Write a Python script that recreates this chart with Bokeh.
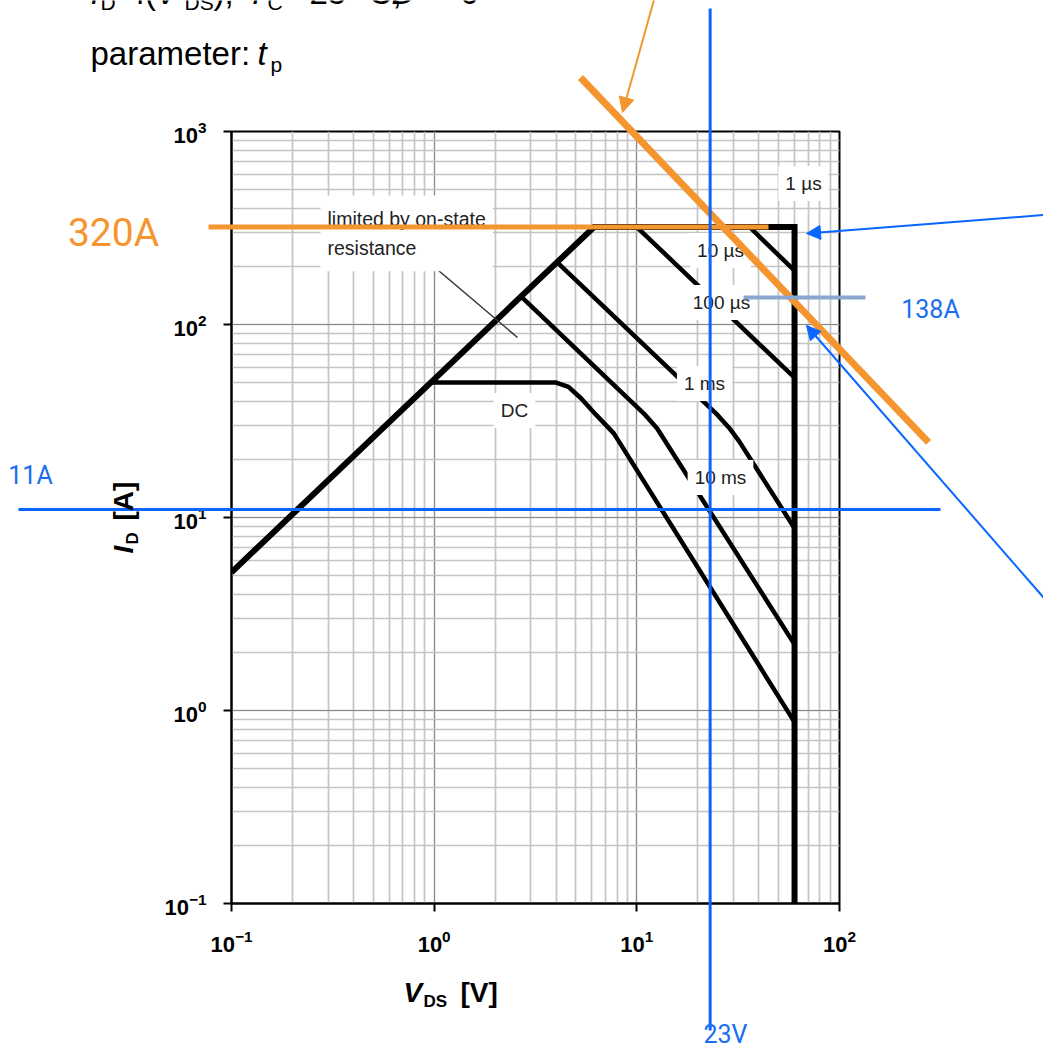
import math
from bokeh.plotting import figure
from bokeh.layouts import column
from bokeh.models import Range1d, Label, Arrow, NormalHead
from bokeh.embed import file_html
from bokeh.resources import INLINE

# ---- safe operating area, I_D = f(V_DS), T_C = 25 °C, D = 0 ----
ENVELOPE_V = [0.1, 6.15, 60.0, 60.0]
ENVELOPE_I = [5.2, 320.0, 320.0, 0.1]

TP_10US_V = [36.0, 60.0]
TP_10US_I = [320.0, 190.0]
TP_100US_V = [10.0, 60.0]
TP_100US_I = [320.0, 53.0]
TP_1MS_V = [4.06, 25.0, 28.5, 32.0, 60.0]
TP_1MS_I = [209.0, 34.0, 29.2, 24.8, 8.8]
TP_10MS_V = [2.72, 11.0, 12.6, 60.0]
TP_10MS_I = [138.0, 34.0, 28.9, 2.2]
DC_V = [0.96, 4.0, 4.6, 5.3, 6.3, 7.7, 60.0]
DC_I = [50.0, 50.0, 47.5, 41.5, 34.0, 27.3, 0.87]

CURVE_NAMES = ["1 µs", "10 µs", "100 µs", "1 ms", "10 ms", "DC"]

# operating point worked out on top of the SOA
V_MARK = 23.0
I_MARK = 11.0
I_LIMIT = 320.0
I_PULSE = 138.0
POWER_LINE_V = [5.27, 275.0]
POWER_LINE_I = [1905.0, 24.5]

# ---- page geometry ----
W, H = 1043, 1048
FL, FR, FT, FB = 231, 839, 131, 903
X_LO, X_HI = 0.1, 100.0
Y_LO, Y_HI = 0.1, 1000.0


def at(px, py):
    """Canvas pixel -> data coordinates on the log/log scales."""
    lx = math.log10(X_LO) + (px - FL) / (FR - FL) * (math.log10(X_HI) - math.log10(X_LO))
    ly = math.log10(Y_HI) - (py - FT) / (FB - FT) * (math.log10(Y_HI) - math.log10(Y_LO))
    return 10 ** lx, 10 ** ly


# ================= datasheet chart =================
p = figure(width=W, height=H, x_axis_type="log", y_axis_type="log",
           x_range=Range1d(X_LO, X_HI), y_range=Range1d(Y_LO, Y_HI),
           output_backend="svg", toolbar_location=None, title=None,
           min_border_left=FL, min_border_right=W - FR,
           min_border_top=FT, min_border_bottom=H - FB)
p.background_fill_color = "white"
p.border_fill_color = "white"
p.outline_line_color = "black"
p.outline_line_width = 2

for ax in (p.xaxis[0], p.yaxis[0]):
    ax.axis_line_color = "black"
    ax.axis_line_width = 2
    ax.major_tick_out = 8
    ax.major_tick_in = 0
    ax.major_tick_line_width = 2
    ax.minor_tick_line_color = None
    ax.major_label_text_font = "Liberation Sans"
    ax.major_label_text_font_style = "bold"
    ax.major_label_text_font_size = "22px"
    ax.major_label_text_color = "black"
p.xaxis.major_label_standoff = 18
p.yaxis.major_label_standoff = 17

for g in (p.xgrid[0], p.ygrid[0]):
    g.grid_line_color = "#8a8a8a"
    g.grid_line_width = 1
    g.minor_grid_line_color = "#c4c4c4"
    g.minor_grid_line_width = 1.7

p.line(TP_10US_V, TP_10US_I, line_color="black", line_width=4.5)
p.line(TP_100US_V, TP_100US_I, line_color="black", line_width=4.5)
p.line(TP_1MS_V, TP_1MS_I, line_color="black", line_width=4.5, line_join="round")
p.line(TP_10MS_V, TP_10MS_I, line_color="black", line_width=4.5, line_join="round")
p.line(DC_V, DC_I, line_color="black", line_width=4.5, line_join="round")
p.line(ENVELOPE_V, ENVELOPE_I, line_color="black", line_width=6, line_join="miter")

# leader for the R_DS(on) note
nx0, ny0 = at(438, 270)
nx1, ny1 = at(517, 337)
p.line([nx0, nx1], [ny0, ny1], line_color="#333333", line_width=1.5)


def text(fig, px, py, s, size, color="black", font="Liberation Sans", style="normal",
         align="left", angle=0.0, bg=None, pad=0, lh=1.2, baseline="middle"):
    x, y = at(px, py)
    lab = Label(x=x, y=y, text=s, text_font=font, text_font_size=f"{size}px",
                text_font_style=style, text_color=color, text_align=align,
                text_baseline=baseline, angle=angle, text_line_height=lh)
    if bg:
        lab.background_fill_color = bg
        lab.padding = pad
    fig.add_layout(lab)
    return lab


def on_base(fig, px, base, s, size, **kw):
    """Text whose alphabetic baseline sits on canvas row `base`."""
    return text(fig, px, base - 0.36 * size, s, size, **kw)


label_px = [(803, 183), (720, 250), (721, 302), (704, 383), (720, 477), (514, 410)]
for name, (lx, ly) in zip(CURVE_NAMES, label_px):
    text(p, lx, ly, name, 19, color="#222222", align="center",
         bg="white", pad=(7, 7))

text(p, 320, 195, "limited by on-state\nresistance", 19.5, color="#222222",
     baseline="top", bg="white", pad=(7, 12), lh=1.35)

# ================= transparent overlay covering the whole page =================
ov_x0, ov_y1 = at(0, 0)
ov_x1, ov_y0 = at(W, H)
ov = figure(width=W, height=H, x_axis_type="log", y_axis_type="log",
            x_axis_location=None, y_axis_location=None, title=None,
            x_range=Range1d(ov_x0, ov_x1), y_range=Range1d(ov_y0, ov_y1),
            min_border=0, min_border_left=0, min_border_right=0,
            min_border_top=0, min_border_bottom=0,
            output_backend="svg", toolbar_location=None)
ov.grid.visible = False
ov.outline_line_color = None
ov.background_fill_alpha = 0
ov.border_fill_alpha = 0
ov.margin = (-H, 0, 0, 0)
# keep each frame where it is: no edge alignment between the two canvases
for fig in (p, ov):
    if "frame_align" in fig.properties():
        fig.frame_align = False

# header lines
on_base(ov, 90, 65, "parameter: ", 33)
on_base(ov, 257, 65, "t", 33, style="italic")
on_base(ov, 270, 72, "p", 21)

on_base(ov, 90, 4, "I", 33, style="italic")
on_base(ov, 100, 10, "D", 21)
on_base(ov, 116, 4, "=f(", 33)
on_base(ov, 155, 4, "V", 33, style="italic")
on_base(ov, 184, 10, "DS", 21)
on_base(ov, 213, 4, ");", 33)
on_base(ov, 246, 4, "T", 33, style="italic")
on_base(ov, 267, 10, "C", 21)
on_base(ov, 289, 4, "=", 33)
on_base(ov, 309, 4, "25 °C;", 33)
on_base(ov, 391, 4, "D", 33, style="italic")
on_base(ov, 425, 4, "=", 33)
on_base(ov, 460, 4, "0", 33)

# axis names
on_base(ov, 403, 1002, "V", 28, style="bold italic")
on_base(ov, 423, 1007, "DS", 17, style="bold")
on_base(ov, 460, 1002, "[V]", 28, style="bold")

text(ov, 123, 553, "I", 28, style="bold italic", angle=math.pi / 2)
text(ov, 132, 544, "D", 17, style="bold", angle=math.pi / 2)
text(ov, 123, 520, "[A]", 28, style="bold", angle=math.pi / 2)

BLUE = "#0a66ff"
BLUE_TXT = "#1a6ef0"
ORANGE = "#f59530"
STEEL = "#8aa6d0"
NOTE_FONT = "Roboto"

# orange: current limit and constant-power line
ov.line([at(208, 0)[0], at(768, 0)[0]], [I_LIMIT, I_LIMIT], line_color=ORANGE, line_width=5)
ov.line(POWER_LINE_V, POWER_LINE_I, line_color=ORANGE, line_width=7)

# blue: operating voltage and current
ov.line([V_MARK, V_MARK], [at(0, 1030)[1], at(0, 8)[1]], line_color=BLUE, line_width=3)
ov.line([at(18, 0)[0], at(940, 0)[0]], [I_MARK, I_MARK], line_color=BLUE, line_width=3)

# pulse current marker
ov.line([at(743, 0)[0], at(865, 0)[0]], [I_PULSE, I_PULSE], line_color=STEEL, line_width=4)


def arrow(x0, y0, x1, y1, color, size):
    ov.add_layout(Arrow(x_start=x0, y_start=y0, x_end=x1, y_end=y1,
                        line_color=color, line_width=2, start=None,
                        end=NormalHead(size=size, fill_color=color,
                                       line_color=color, line_width=1)))


arrow(*at(655, -6), *at(622, 112), ORANGE, 15)
arrow(*at(1050, 214), *at(806, 233), BLUE, 14)
arrow(*at(1050, 605), *at(806, 325), BLUE, 14)

text(ov, 113, 232, f"{I_LIMIT:.0f}A", 39, color=ORANGE, font=NOTE_FONT, align="center")
text(ov, 30, 475, f"{I_MARK:.0f}A", 25, color=BLUE_TXT, font=NOTE_FONT, align="center")
text(ov, 930, 309, f"{I_PULSE:.0f}A", 25, color=BLUE_TXT, font=NOTE_FONT, align="center")
text(ov, 725, 1034, f"{V_MARK:.0f}V", 25, color=BLUE_TXT, font=NOTE_FONT, align="center")

open("out.html", "w").write(file_html(column(p, ov), INLINE))
